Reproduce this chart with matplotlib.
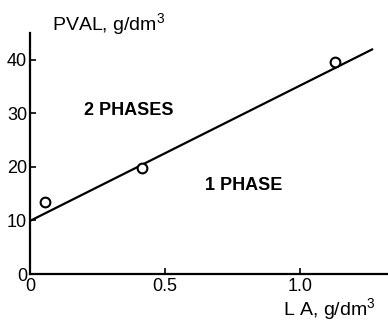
import matplotlib.pyplot as plt

# measured points (LA, PVAL)
la_pts = [0.056, 0.414, 1.13]
pval_pts = [13.4, 19.8, 39.6]

# phase boundary line
la_line = [0.0, 1.267]
pval_line = [9.9, 41.9]

xticks = [0, 0.5, 1.0]
xtick_labels = ["0", "0.5", "1.0"]
yticks = [0, 10, 20, 30, 40]

plt.rcParams['font.family'] = ['Liberation Sans', 'DejaVu Sans']
plt.rcParams['mathtext.fontset'] = 'custom'
plt.rcParams['mathtext.rm'] = 'Liberation Sans'

fig = plt.figure(figsize=(3.88, 3.22), dpi=100)
ax = fig.add_axes([0.077, 0.149, 0.923, 0.749])

ax.plot(la_line, pval_line, color='black', linewidth=1.6)
ax.plot(la_pts, pval_pts, 'o', markersize=7, markerfacecolor='white',
        markeredgecolor='black', markeredgewidth=1.5)

ax.set_xlim(0, 1.326)
ax.set_ylim(0, 45)
ax.set_xticks(xticks)
ax.set_xticklabels(xtick_labels)
ax.set_yticks(yticks)

for s in ['top', 'right']:
    ax.spines[s].set_visible(False)
for s in ['left', 'bottom']:
    ax.spines[s].set_linewidth(1.6)

ax.tick_params(direction='in', length=4, width=1.2, labelsize=13)
ax.tick_params(axis='x', pad=3)
ax.tick_params(axis='y', pad=2)

fig.text(0.133, 0.905, "PVAL, g/dm$\\mathregular{^3}$", fontsize=14, ha='left', va='baseline')
fig.text(0.73, 0.022, "L A, g/dm$\\mathregular{^3}$", fontsize=14, ha='left', va='baseline')
ax.text(0.2, 30.5, "2 PHASES", fontsize=13, fontweight='bold', ha='left', va='center')
ax.text(0.65, 16.5, "1 PHASE", fontsize=13, fontweight='bold', ha='left', va='center')

fig.savefig("out.png", dpi=100)
